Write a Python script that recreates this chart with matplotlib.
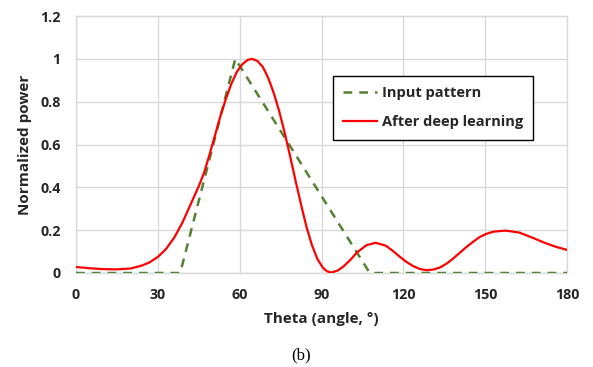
import matplotlib
matplotlib.use("Agg")
import matplotlib.pyplot as plt

# Input pattern (piecewise linear)
theta_input = [0, 38.2, 58.4, 107.7, 180]
power_input = [0, 0, 1.0, 0, 0]

# After deep learning
theta_dl = [0, 5, 10, 15, 20, 24, 27, 30, 33, 36, 39, 42, 45, 47, 49, 51, 53, 55,
            57, 59, 61, 63, 64.5, 66.5, 68.5, 70.5, 72.5, 74.5, 76.5, 78.5, 80.5,
            82.5, 84.5, 86.5, 88.5, 90.5, 92, 93.6, 96, 98, 100.5, 103, 106.5, 109.8,
            113.5, 116, 118.5, 121, 123.5, 126, 128.5, 131, 133.5, 136, 138, 140.5,
            143, 145.5, 148, 150.5, 153, 157.5, 162.5, 167.5, 172, 176, 180]
power_dl = [0.028, 0.022, 0.018, 0.017, 0.021, 0.034, 0.050, 0.075, 0.112, 0.165,
            0.235, 0.32, 0.405, 0.47, 0.555, 0.645, 0.735, 0.815, 0.885, 0.94, 0.975,
            0.995, 1.0, 0.99, 0.962, 0.91, 0.84, 0.755, 0.655, 0.545, 0.43, 0.32,
            0.215, 0.13, 0.065, 0.025, 0.008, 0.002, 0.012, 0.03, 0.06, 0.096, 0.13,
            0.141, 0.128, 0.105, 0.078, 0.053, 0.033, 0.019, 0.013, 0.016, 0.026,
            0.045, 0.065, 0.092, 0.12, 0.145, 0.168, 0.183, 0.193, 0.198, 0.189,
            0.164, 0.14, 0.122, 0.108]

x_ticks = [0, 30, 60, 90, 120, 150, 180]
y_ticks = [0, 0.2, 0.4, 0.6, 0.8, 1.0, 1.2]
y_tick_labels = ["0", "0.2", "0.4", "0.6", "0.8", "1", "1.2"]

FONT = ["Open Sans", "DejaVu Sans"]

fig = plt.figure(figsize=(5.93, 3.67), dpi=100)
ax = fig.add_axes([76/593, 1-273/367, (567-76)/593, (273-16)/367])

ax.plot(theta_input, power_input, color="#548235", lw=1.8,
        linestyle=(0, (3.5, 2.8)), label="Input pattern", zorder=3)
ax.plot(theta_dl, power_dl, color="#FF0000", lw=1.6, solid_joinstyle="round",
        label="After deep learning", zorder=4)

ax.set_xlim(0, 180)
ax.set_ylim(0, 1.2)
ax.set_xticks(x_ticks)
ax.set_yticks(y_ticks)
ax.set_yticklabels(y_tick_labels)
ax.tick_params(length=0, pad=11, labelsize=10.3)
for lab in ax.get_xticklabels() + ax.get_yticklabels():
    lab.set_fontfamily(FONT)
    lab.set_fontweight("bold")
    lab.set_color("#262626")

ax.grid(True, color="#d9d9d9", lw=1.0)
ax.set_axisbelow(True)
for s in ax.spines.values():
    s.set_color("#d9d9d9")
    s.set_linewidth(1.0)

ax.set_xlabel("Theta (angle, °)", fontsize=11, fontweight="bold",
              family=FONT, color="#262626", labelpad=7)
ax.set_ylabel("Normalized power", fontsize=11, fontweight="bold",
              family=FONT, color="#262626", labelpad=6)

leg = ax.legend(loc="upper left", bbox_to_anchor=(0.523, 0.767),
                borderaxespad=0, fancybox=False, framealpha=1,
                edgecolor="black", handlelength=2.3, handletextpad=0.35,
                labelspacing=1.05, borderpad=0.7,
                prop={"family": FONT, "weight": "bold", "size": 10.5})
leg.get_frame().set_linewidth(1.0)
for t in leg.get_texts():
    t.set_color("#262626")

fig.text(301/593, 1-355/367, "(b)", ha="center", va="center",
         family=["Liberation Serif", "DejaVu Serif"], fontsize=12)

fig.savefig("out.png", dpi=100)
